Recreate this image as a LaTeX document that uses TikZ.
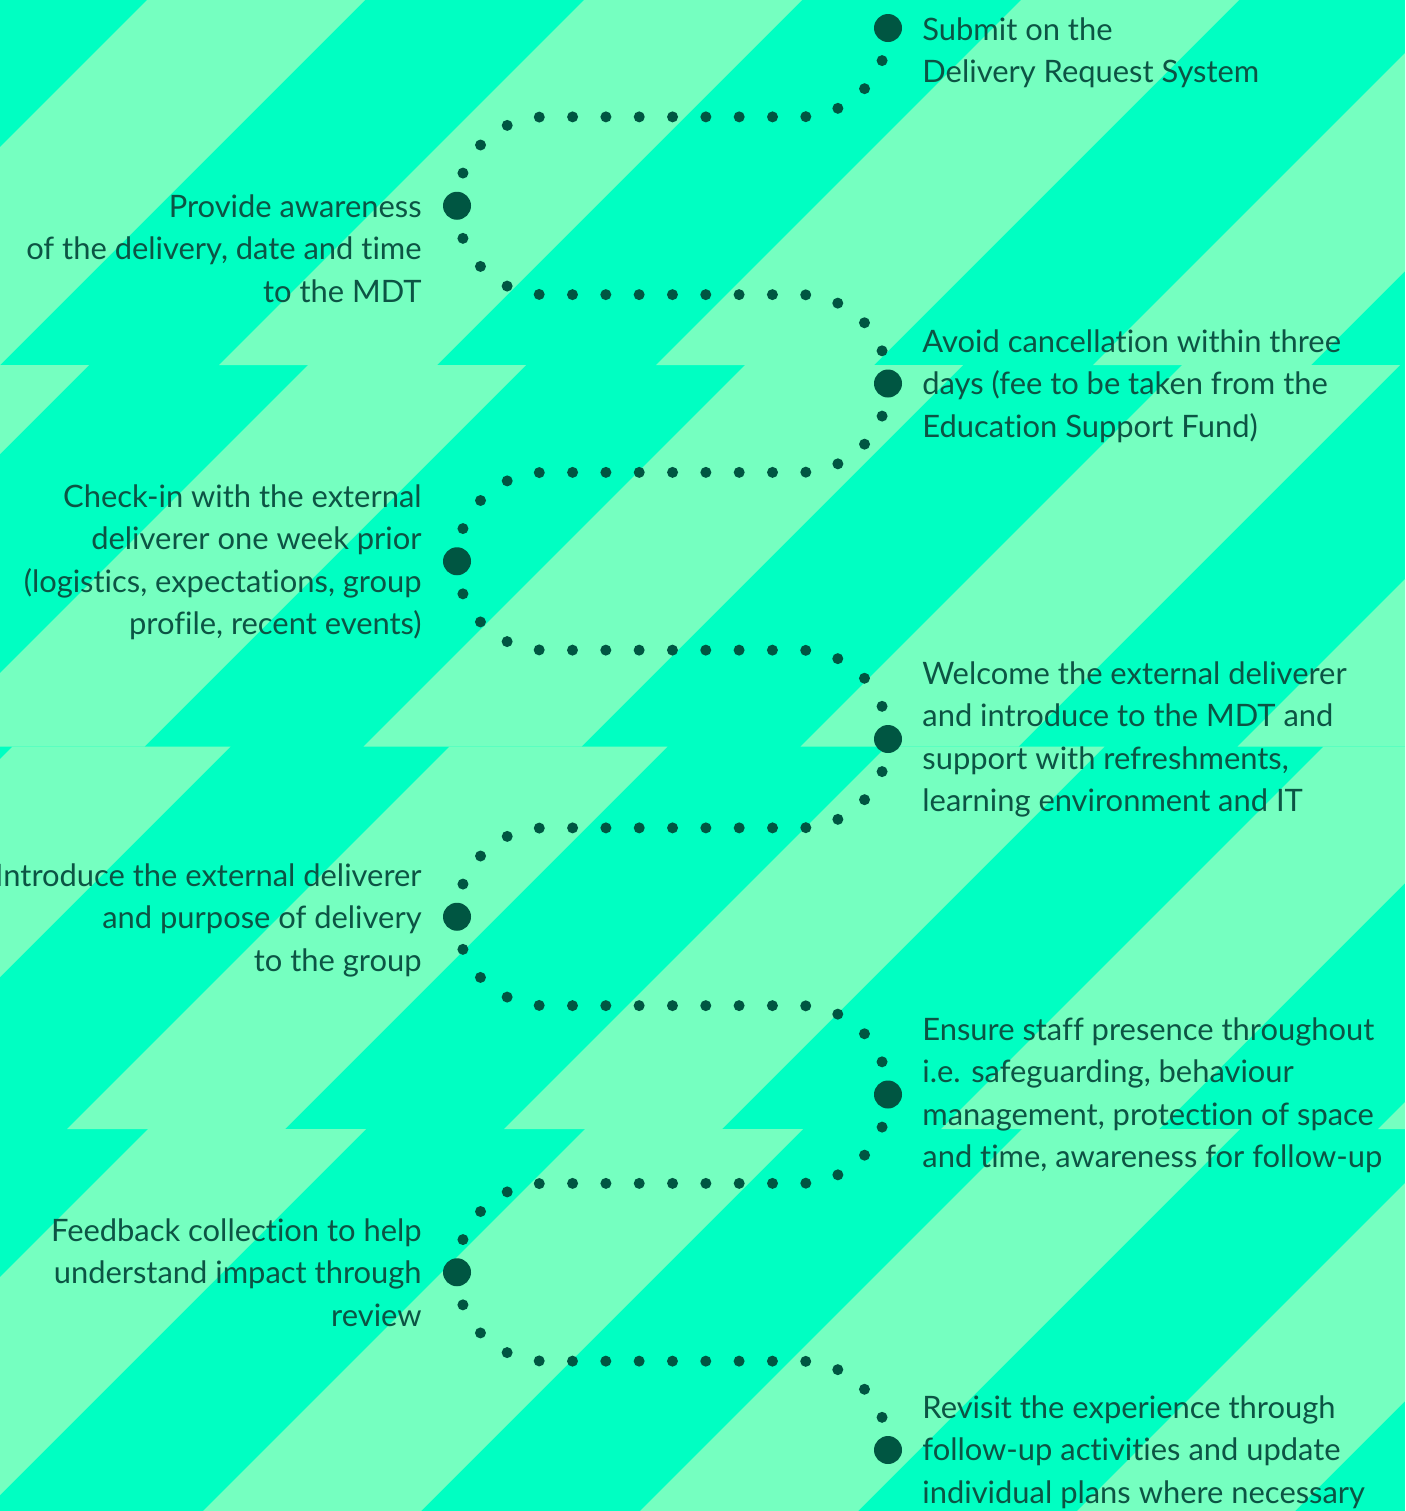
\documentclass[tikz,border=0pt]{standalone}
\usepackage{fontspec}
\setmainfont{Lato}[Ligatures=NoCommon]
\usepackage{xcolor}
\usepackage{tikz}
\definecolor{stripemint}{RGB}{0,255,194}
\definecolor{stripepale}{RGB}{117,255,192}
\definecolor{pathgreen}{RGB}{0,86,66}
\definecolor{labelgreen}{RGB}{12,84,68}

\begin{document}
\begin{tikzpicture}[x=0.5pt, y=-0.5pt,
    bigdot/.style={circle, fill=pathgreen, minimum size=14pt, inner sep=0pt},
    trail/.style={pathgreen, line width=5.5pt, line cap=round, dash pattern=on 0pt off 16.66pt, rounded corners=44pt},
    leftlabel/.style={anchor=base east, align=right, inner sep=0pt, text=labelgreen, font=\fontsize{15.45}{21.25}\selectfont},
    rightlabel/.style={anchor=base west, align=left, inner sep=0pt, text=labelgreen, font=\fontsize{15.45}{21.25}\selectfont}]

    % Background stripes
    \useasboundingbox (0,0) rectangle (1405,1511);
    \fill[stripemint] (0,0) rectangle (1405,1511);
    \foreach \ytop/\ybot/\shift in {0/365/147, 365/746.5/236, 746.5/1129/322, 1129/1511/403} {
        \begin{scope}
            \clip (0,\ytop) rectangle (1405,\ybot);
            \foreach \k in {-1,...,7}
                \fill[stripepale] ({\shift+\k*437-\ytop},\ytop) -- ({\shift+\k*437+218-\ytop},\ytop)
                    -- ({\shift+\k*437+218-\ybot},\ybot) -- ({\shift+\k*437-\ybot},\ybot) -- cycle;
        \end{scope}
    }

    % Steps on the right
    \node[bigdot] (r1) at (888,28) {};
    \node[bigdot] (r2) at (888,383.5) {};
    \node[bigdot] (r3) at (888,739) {};
    \node[bigdot] (r4) at (888,1094.5) {};
    \node[bigdot] (r5) at (888,1450) {};

    % Steps on the left
    \node[bigdot] (l1) at (457,205.75) {};
    \node[bigdot] (l2) at (457,561.25) {};
    \node[bigdot] (l3) at (457,916.75) {};
    \node[bigdot] (l4) at (457,1272.25) {};

    % Dotted trail
    \draw[trail] (r1.center) -- ++(0,88.875) -| (l1.center);
    \draw[trail] (l1.center) -- ++(0,88.875) -| (r2.center);
    \draw[trail] (r2.center) -- ++(0,88.875) -| (l2.center);
    \draw[trail] (l2.center) -- ++(0,88.875) -| (r3.center);
    \draw[trail] (r3.center) -- ++(0,88.875) -| (l3.center);
    \draw[trail] (l3.center) -- ++(0,88.875) -| (r4.center);
    \draw[trail] (r4.center) -- ++(0,88.875) -| (l4.center);
    \draw[trail] (l4.center) -- ++(0,88.875) -| (r5.center);

    % Labels left (placed at the baseline of their last line)
    \node[leftlabel] (provide) at (422,302) {Provide awareness\\of the delivery, date and time\\to the MDT};
    \node[leftlabel] (checkin) at (422,634.5) {Check-in with the external\\deliverer one week prior\\(logistics, expectations, group\\profile, recent events)};
    \node[leftlabel] (introduce) at (422,971) {Introduce the external deliverer\\and purpose of delivery\\to the group};
    \node[leftlabel] (feedback) at (422,1326) {Feedback collection to help\\understand impact through\\review};

    % Labels right
    \node[rightlabel] (submit) at (922,82.5) {Submit on the\\Delivery Request System};
    \node[rightlabel] (avoid) at (922,437) {Avoid cancellation within three\\days (fee to be taken from the\\Education Support Fund)};
    \node[rightlabel] (welcome) at (922,811.5) {Welcome the external deliverer\\and introduce to the MDT and\\support with refreshments,\\learning environment and IT};
    \node[rightlabel] (ensure) at (922,1167.5) {Ensure staff presence throughout\\i.e. safeguarding, behaviour\\management, protection of space\\and time, awareness for follow-up};
    \node[rightlabel] (revisit) at (922,1503) {Revisit the experience through\\follow-up activities and update\\individual plans where necessary};
\end{tikzpicture}
\end{document}
